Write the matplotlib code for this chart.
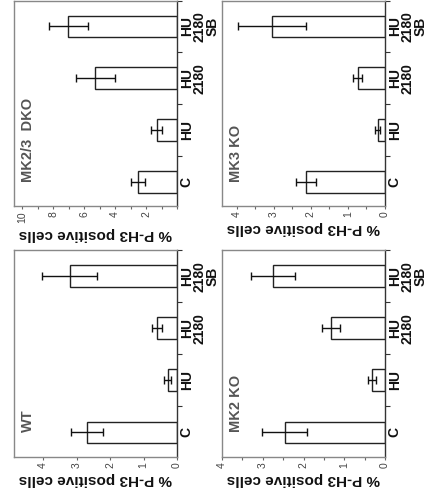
import matplotlib
matplotlib.use("Agg")
import matplotlib.pyplot as plt
import matplotlib.transforms as mtransforms
from matplotlib.ticker import MultipleLocator, FixedLocator

plt.rcParams['font.family'] = ['Liberation Sans', 'DejaVu Sans']

categories = ["C", "HU", "HU\n2180", "HU\n2180\nSB"]

wt_mean = [2.68, 0.28, 0.60, 3.20]
wt_err = [0.48, 0.10, 0.15, 0.82]
mk2_mean = [2.46, 0.32, 1.33, 2.75]
mk2_err = [0.55, 0.10, 0.22, 0.53]
mk3_mean = [2.13, 0.20, 0.74, 3.06]
mk3_err = [0.28, 0.07, 0.13, 0.92]
dko_mean = [2.52, 1.32, 5.30, 7.05]
dko_err = [0.47, 0.35, 1.26, 1.26]

panel_names = ["MK2/3  DKO", "MK3 KO", "WT", "MK2 KO"]
ylabel = "% P-H3 positive cells"

W, H = 429, 499
fig = plt.figure(figsize=(W / 100, H / 100), dpi=100)

def rect(x0, x1, y0, y1):
    return [x0 / W, 1 - y1 / H, (x1 - x0) / W, (y1 - y0) / H]

panels = [
    dict(rect=rect(14, 177, 0.5, 206), mean=dko_mean, err=dko_err, name=panel_names[0],
         xmax=10.55, major=2, minor=1, skip_zero=True),
    dict(rect=rect(222, 385, 0.5, 206), mean=mk3_mean, err=mk3_err, name=panel_names[1],
         xmax=4.40, major=1, minor=0.5, skip_zero=False),
    dict(rect=rect(14, 177, 250, 457), mean=wt_mean, err=wt_err, name=panel_names[2],
         xmax=4.87, major=1, minor=None, skip_zero=False),
    dict(rect=rect(222, 385, 250, 457), mean=mk2_mean, err=mk2_err, name=panel_names[3],
         xmax=4.00, major=1, minor=0.5, skip_zero=False),
]

pos = list(range(len(categories)))

for p in panels:
    ax = fig.add_axes(p["rect"])
    ax.barh(pos, p["mean"], height=0.42, color="white", edgecolor="#222222",
            linewidth=1.0, xerr=p["err"],
            error_kw=dict(ecolor="#111111", elinewidth=1.0, capsize=2.6, capthick=1.0))
    ax.set_xlim(p["xmax"], 0)
    ax.set_ylim(-0.47, 3.5)

    # value axis (bottom)
    ax.xaxis.set_major_locator(MultipleLocator(p["major"]))
    if p["minor"]:
        ax.xaxis.set_minor_locator(MultipleLocator(p["minor"]))
    ax.tick_params(axis="x", which="both", direction="out", length=2.5, width=0.8,
                   colors="#666666", labelsize=7.5, labelrotation=90, pad=1.5)
    ticks = [t for t in ax.get_xticks() if 0 <= t <= p["xmax"]]
    ax.set_xticks(ticks)
    labels = []
    for t in ticks:
        if p["skip_zero"] and t == 0:
            labels.append("")
        else:
            labels.append(f"{t:g}")
    ax.set_xticklabels(labels, color="#444444")
    ax.set_xlabel(ylabel, rotation=180, fontsize=11, fontweight="bold",
                  color="#111111", labelpad=2.5)

    # category axis (right)
    ax.yaxis.tick_right()
    ax.set_yticks(pos)
    ax.set_yticklabels(categories, rotation=90, fontsize=10, fontweight="bold",
                       va="center", ha="left", multialignment="center",
                       linespacing=0.9, color="#111111")
    ax.yaxis.set_minor_locator(FixedLocator([0.5, 1.5, 2.5, 3.5]))
    ax.tick_params(axis="y", which="major", length=0, pad=2)
    ax.tick_params(axis="y", which="minor", length=3.5, width=0.8,
                   direction="out", colors="#333333")

    for side in ["left", "top", "bottom"]:
        ax.spines[side].set_color("#888888")
        ax.spines[side].set_linewidth(1.0)
    ax.spines["right"].set_color("#333333")
    ax.spines["right"].set_linewidth(1.0)

    tr = mtransforms.blended_transform_factory(ax.transAxes, ax.transData)
    ax.text(0.083, 0.0, p["name"], transform=tr, rotation=90, ha="center",
            va="bottom", fontsize=10.5, fontweight="bold", color="#555555")

fig.savefig("out.png", dpi=100)
